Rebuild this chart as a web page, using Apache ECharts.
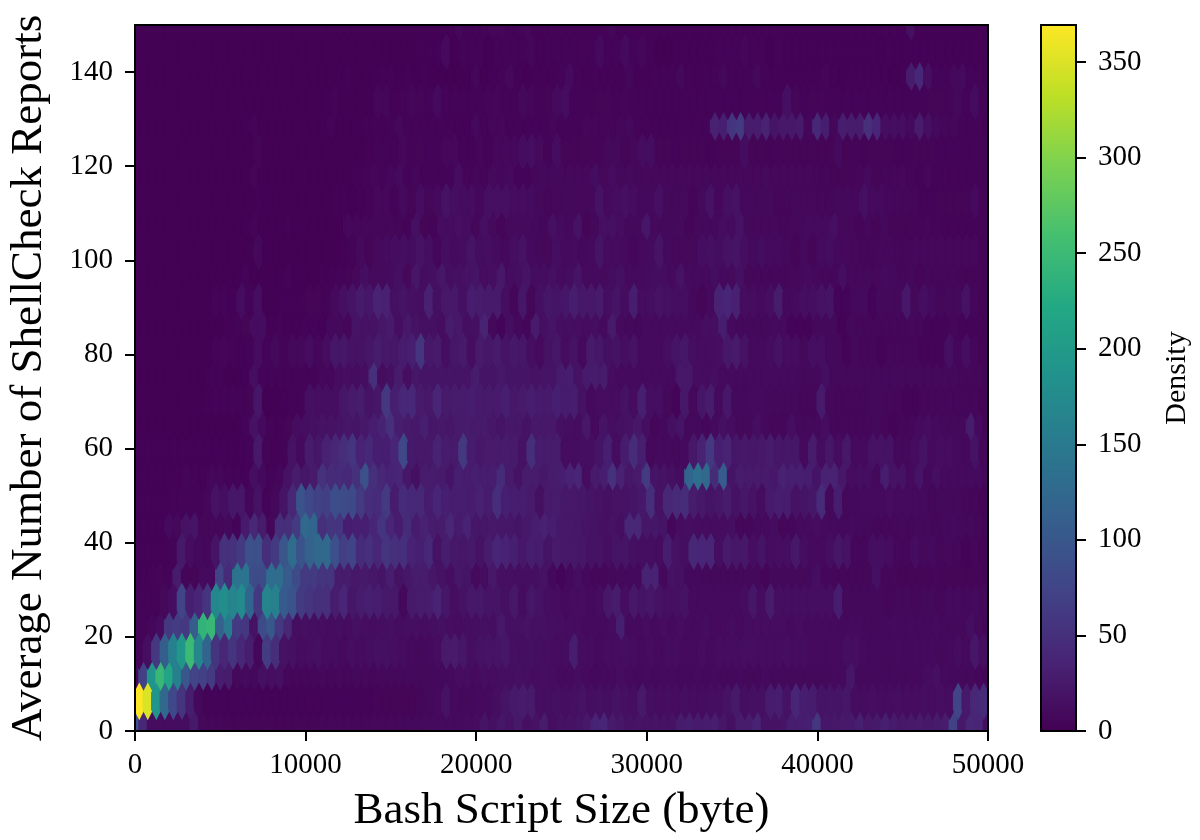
<!DOCTYPE html>
<html><head><meta charset="utf-8">
<style>html,body{margin:0;padding:0;background:#fff}#c{width:1200px;height:840px}</style>
<script src="https://cdn.jsdelivr.net/npm/echarts@6/dist/echarts.min.js"></script>
</head><body><div id="c"></div>
<script>
// Hexagon bin counts. Names give each row's y bin centre.
const r1=[90,40,12,12,12,12,12,25,8,6,6,5,5,5,5,5,5,5,5,5,5,5,6,6,6,6,6,6,7,7,7,7,8,8,9,9,10,10,10,11,12,20,16,22,18,25,16,18,28,14,18,18,20,24,36,38,26,22,18,20,18,20,18,18,28,30,26,28,30,22,16,28,28,36,18,18,20,30,30,32,58,22,24,25,25,32,24,25,32,26,24,25,26,24,26,28,72,24,40,38,15];
const r6=[370,350,190,125,80,55,30,8,4,4,3,3,3,3,3,3,3,3,3,3,3,3,4,4,4,4,4,4,5,5,5,5,5,6,8,10,18,10,8,8,10,10,14,20,25,28,26,14,14,16,14,16,18,14,16,14,18,16,14,25,14,12,14,12,14,12,12,14,14,18,25,14,16,16,28,30,18,38,30,28,20,20,20,22,12,12,14,12,12,14,12,12,14,12,14,12,75,25,40,45];
const r12=[8,70,190,245,215,160,100,75,70,62,30,28,8,10,8,16,14,16,6,6,6,6,7,6,7,6,8,7,6,8,8,7,8,8,8,8,8,10,12,12,10,14,12,14,14,16,14,12,14,12,10,10,12,10,8,10,10,12,10,8,10,8,10,10,8,8,10,8,10,8,8,10,8,8,10,8,8,8,8,8,8,8,10,10,22,8,8,8,8,8,8,8,8,12,15,10,8,8,8,6,5];
const r17=[4,14,60,110,160,195,250,170,120,55,40,55,40,30,6,65,48,18,16,12,14,16,12,12,10,14,12,14,16,16,14,12,10,8,10,12,26,26,22,14,18,20,20,22,16,14,16,14,14,12,12,30,12,12,10,12,12,14,12,10,12,10,12,12,10,10,12,10,12,12,12,14,14,12,12,12,14,12,12,10,10,10,10,14,14,10,8,8,8,10,8,10,10,10,8,10,12,10,22,14];
const r22=[3,4,6,12,60,65,60,110,240,245,115,150,62,58,18,85,100,60,40,14,16,14,14,12,14,12,16,14,12,14,16,12,14,14,12,14,16,14,12,14,14,16,14,24,16,16,18,16,16,14,14,12,12,10,10,10,12,32,10,10,12,10,12,10,12,10,10,12,10,10,12,10,12,12,12,12,12,10,12,10,10,10,10,8,10,10,8,8,8,10,8,10,8,8,10,8,8,8,14,8,6];
const r28=[3,3,4,8,14,75,32,38,55,170,180,165,175,120,60,165,160,105,95,62,55,50,50,30,38,22,28,32,30,25,24,8,25,28,28,35,22,14,18,24,24,20,20,16,24,12,22,18,14,12,10,12,12,10,12,24,28,14,24,20,22,18,15,16,18,10,10,10,10,10,10,12,22,12,28,14,14,14,14,14,14,14,30,8,8,8,8,8,6,8,8,6,8,8,6,10,10,8,10,8];
const r33=[2,2,3,5,4,28,5,5,10,10,75,45,140,140,85,85,130,130,105,85,62,62,55,55,28,28,24,25,22,20,30,18,22,28,28,22,18,14,22,20,10,12,24,15,15,14,14,14,18,8,3,8,14,8,6,6,8,8,8,8,36,36,8,18,16,8,8,8,8,8,8,8,8,8,5,8,8,8,8,8,14,6,6,6,6,6,6,16,6,6,5,5,5,5,6,5,5,5,5,5,4];
const r38=[2,2,2,2,4,25,12,8,6,20,52,52,62,90,90,48,62,98,130,95,115,125,125,90,68,75,45,50,40,55,50,50,35,32,42,18,30,24,22,25,18,28,38,36,32,24,30,28,20,26,24,24,22,18,18,14,20,20,16,14,14,12,30,18,14,42,38,38,14,26,22,24,14,20,12,14,14,24,14,10,10,14,22,18,6,6,14,14,12,6,6,12,8,10,6,8,6,4,6,4];
const r43=[2,2,2,2,10,8,18,20,6,6,6,8,4,26,40,28,6,48,48,62,125,120,50,55,55,30,32,32,38,55,38,28,45,28,34,28,28,40,26,36,22,22,24,22,22,20,24,30,34,30,24,24,22,20,18,16,18,14,42,40,22,22,20,6,12,14,12,12,12,12,14,6,6,10,10,12,6,6,10,10,12,10,10,8,10,8,8,6,6,6,8,6,8,8,6,8,10,8,8,6,6];
const r49=[2,2,2,2,3,4,4,4,6,18,14,22,22,6,18,4,8,20,40,95,80,72,68,88,85,82,62,48,45,62,28,45,42,42,28,38,32,30,30,28,34,28,48,32,30,30,26,16,26,28,24,24,22,20,18,16,18,18,20,24,48,18,40,44,46,28,24,20,22,28,18,22,18,12,26,30,28,18,20,22,44,8,30,8,8,10,10,10,12,10,10,10,10,6,8,8,8,6,6,4];
const r54=[2,2,2,2,2,2,5,3,2,6,6,4,4,2,14,8,4,6,18,28,22,26,52,45,45,42,50,90,50,40,35,38,22,16,28,28,26,20,32,28,32,30,30,45,26,18,28,28,24,28,30,36,38,12,26,30,52,34,22,26,62,20,18,16,12,118,135,125,45,105,20,28,26,26,26,24,34,32,32,30,20,34,36,24,12,14,14,8,30,18,18,10,20,8,14,10,10,10,10,10,8];
const r59=[2,2,2,2,2,2,2,2,2,2,2,2,2,3,25,3,2,4,18,10,28,22,34,40,48,55,35,42,30,30,38,80,25,24,24,36,28,26,60,28,24,26,26,28,26,18,48,28,28,28,12,12,14,14,20,32,12,28,46,32,8,10,10,8,10,24,36,60,32,36,22,24,22,24,28,22,22,22,10,28,12,22,12,24,10,10,18,18,18,8,8,12,18,10,12,12,10,8,18,6];
const r65=[1,1,1,1,1,1,1,1,1,1,1,1,1,3,18,10,3,2,5,12,14,16,18,18,20,22,20,24,30,35,50,30,26,24,32,22,24,22,26,28,26,26,22,20,24,22,18,24,24,24,16,14,12,24,10,20,14,16,18,24,14,6,8,16,20,8,8,6,10,16,12,8,8,14,8,6,6,14,8,8,8,12,6,6,6,6,6,8,6,4,6,6,10,12,10,8,8,8,28,10,4];
const r70=[1,1,1,1,1,1,1,1,2,3,3,4,3,5,22,1,1,2,3,4,16,14,14,14,22,26,28,20,22,60,32,40,42,26,24,38,26,28,28,30,26,26,26,32,24,26,30,26,26,32,28,30,18,10,12,12,12,18,12,32,14,14,8,4,24,8,22,28,10,24,8,8,10,10,8,8,8,8,6,6,26,8,6,6,6,6,8,8,6,6,4,4,6,6,6,6,6,6,6,4];
const r75=[1,1,1,1,1,1,1,1,1,3,3,1,1,2,14,4,4,4,4,4,4,4,6,6,12,14,12,14,50,12,16,28,14,22,20,20,20,20,20,20,28,20,20,24,20,20,20,18,20,20,28,30,18,26,28,28,12,10,10,10,10,10,10,10,24,24,12,12,14,10,10,10,10,10,10,10,10,10,8,8,8,14,8,8,8,8,8,8,8,8,8,8,8,8,8,8,8,6,6,6,4];
const r81=[1,1,1,1,1,1,1,1,1,3,5,3,2,3,12,3,8,3,8,8,12,6,12,22,22,18,18,22,28,24,22,28,32,55,24,26,14,22,26,14,26,22,26,20,24,22,14,10,18,22,12,18,10,26,22,16,18,14,18,10,10,10,14,20,22,14,12,12,14,24,26,18,10,10,12,18,12,12,8,14,14,8,8,4,8,6,6,4,6,6,6,6,4,4,4,16,6,14,6,4];
const r86=[1,1,1,1,1,1,1,1,1,1,1,2,3,5,12,12,2,3,2,2,3,4,2,8,8,6,20,18,18,22,26,14,24,18,16,16,12,28,24,14,16,36,8,4,14,8,5,26,16,20,14,14,14,12,14,10,26,10,8,6,10,10,10,10,10,10,10,14,14,30,10,8,8,8,8,10,10,4,3,3,8,8,8,2,8,6,6,6,6,6,6,8,6,4,4,4,6,4,3,3,3];
const r91=[1,1,1,1,1,1,1,1,1,3,3,2,12,3,14,1,1,2,2,2,5,5,4,10,16,20,26,22,35,34,16,20,16,14,34,16,24,24,16,30,28,26,26,14,6,22,6,16,22,20,22,30,24,24,26,14,20,12,30,12,14,18,16,14,14,8,5,10,36,38,34,12,12,10,14,28,8,10,14,14,18,20,3,4,8,10,3,8,8,8,24,8,14,10,6,8,8,18,6,4];
const r97=[1,1,1,1,1,1,1,1,1,1,1,1,1,4,1,1,1,1,4,1,1,1,2,2,4,5,7,14,9,9,11,16,7,22,13,16,22,14,16,18,20,12,14,24,12,14,20,13,13,16,11,13,20,10,10,9,13,16,10,10,11,13,13,10,18,10,9,10,13,10,9,16,6,6,6,6,6,7,7,10,8,6,6,14,7,7,8,7,10,7,6,8,5,6,6,6,6,5,5,5,4];
const r102=[1,1,1,1,1,1,1,1,1,1,1,1,1,1,8,1,1,1,1,1,1,1,1,1,2,4,9,5,9,11,13,14,13,18,14,6,14,11,13,20,13,14,11,8,14,18,10,8,7,14,10,11,8,10,20,11,11,10,6,10,11,20,10,7,7,8,14,16,13,18,20,14,10,13,10,10,8,5,10,5,11,13,7,7,7,6,6,7,7,6,6,7,7,7,7,7,7,7,7,4];
const r107=[1,1,1,1,1,1,1,1,1,1,1,1,1,1,4,1,1,1,2,1,1,1,1,1,1,7,6,6,6,6,6,5,4,16,5,3,12,12,15,12,6,15,9,5,9,9,9,8,6,16,11,8,18,5,8,15,16,12,7,8,22,9,8,8,9,5,8,8,8,12,11,18,8,7,7,7,6,7,8,9,10,10,15,7,7,5,7,5,8,5,5,5,5,6,5,3,3,3,3,3,3];
const r113=[1,1,1,1,1,1,1,1,1,1,1,1,1,1,2,1,1,1,1,1,1,1,1,2,2,1,2,3,7,7,4,10,5,12,6,9,18,14,12,12,7,15,15,15,12,12,11,8,6,7,8,8,7,8,18,9,12,15,12,8,8,16,8,8,9,5,9,18,7,16,18,8,7,8,9,6,6,8,7,7,6,6,8,8,7,16,9,10,6,6,6,6,4,4,5,5,5,5,10,4];
const r118=[1,1,1,1,1,1,1,1,1,1,1,1,1,1,5,1,1,1,1,1,1,1,1,1,1,1,2,3,6,4,6,10,4,6,4,4,3,4,13,5,6,5,9,6,10,4,4,6,8,8,8,7,7,7,13,7,12,8,9,7,7,7,7,7,7,7,7,8,7,7,7,7,7,7,9,7,7,7,7,7,6,6,5,5,5,6,10,5,6,6,7,5,4,7,4,3,3,3,3,3,3];
const r123=[1,1,1,1,1,1,1,1,1,1,1,1,1,1,5,1,1,1,1,1,1,1,1,1,1,1,1,2,3,4,3,7,4,5,4,4,7,7,4,4,6,4,7,7,7,12,14,9,4,12,5,5,5,5,5,8,8,5,7,12,13,5,5,4,5,5,5,3,5,5,5,13,5,5,4,5,5,5,5,5,5,5,10,5,5,4,5,5,5,3,3,5,5,5,4,4,4,4,4,3];
const r128=[1,1,1,1,1,1,1,1,1,1,1,1,1,1,3,1,1,1,1,1,1,1,1,3,1,1,1,2,2,2,3,8,3,3,3,3,3,3,2,2,8,3,6,6,3,3,3,3,3,6,4,4,4,6,6,5,5,6,8,4,3,3,3,3,3,3,3,3,34,32,55,62,28,28,35,20,24,24,26,6,42,30,6,30,28,28,50,38,14,14,14,10,28,16,8,6,6,4,3,3,2];
const r134=[1,1,1,1,1,1,1,1,1,1,1,1,1,1,1,1,1,1,1,1,1,1,1,3,1,1,1,1,6,6,2,3,6,5,3,10,4,3,3,3,3,5,6,4,4,8,6,4,5,10,12,4,4,4,5,5,4,5,4,4,3,3,3,3,4,3,3,3,3,3,3,3,3,3,3,3,16,6,4,5,5,4,3,3,3,3,3,3,4,4,4,4,4,5,5,5,8,4,11,3];
const r139=[1,1,1,1,1,1,1,1,1,1,1,1,1,1,1,1,1,1,1,1,1,1,1,1,1,2,1,1,1,2,2,1,2,1,2,1,1,1,1,1,6,1,2,3,8,2,1,2,2,2,3,10,3,2,3,2,2,2,6,2,2,3,3,3,8,3,2,3,3,8,3,3,3,8,3,2,2,2,2,2,2,5,2,1,2,2,2,2,2,1,2,28,42,14,3,3,8,10,3,3,2];
const r144=[1,1,1,1,1,1,1,1,1,1,1,1,1,1,1,1,1,1,1,1,1,1,1,1,1,1,1,1,1,1,1,1,1,2,2,2,10,1,3,3,3,1,3,3,3,3,6,2,3,3,3,3,3,3,10,3,3,10,3,6,3,1,1,2,2,2,2,2,3,3,3,6,4,3,1,3,2,2,2,2,2,2,2,2,2,2,2,1,2,2,2,2,2,2,2,2,2,2,2,2];
const r150=[1,1,1,1,1,1,1,1,1,1,1,1,1,1,1,1,1,1,1,1,1,1,1,1,1,1,1,1,1,1,1,1,1,1,1,1,1,1,6,3,3,3,6,6,3,3,6,2,2,2,2,2,2,2,2,2,6,2,2,2,2,2,2,2,2,2,2,2,2,2,2,2,2,2,2,2,2,2,2,2,2,2,2,2,2,2,2,2,2,2,2,16,2,2,2,2,2,2,2,2,2];

const latticeOneRows=[[1,r1],[11.62,r12],[22.24,r22],[32.86,r33],[43.48,r43],[54.1,r54],[64.72,r65],[75.34,r75],[85.96,r86],[96.58,r97],[107.2,r107],[117.82,r118],[128.44,r128],[139.06,r139],[149.68,r150]];
const latticeTwoRows=[[6.31,r6],[16.93,r17],[27.55,r28],[38.17,r38],[48.79,r49],[59.41,r59],[70.03,r70],[80.65,r81],[91.27,r91],[101.89,r102],[112.51,r113],[123.13,r123],[133.75,r134],[144.37,r144]];

const xTicks=[0,10000,20000,30000,40000,50000];
const yTicks=[0,20,40,60,80,100,120,140];
const colorTicks=[0,50,100,150,200,250,300,350];
const viridis=['#440154','#482475','#414487','#355f8d','#2a788e','#21918c','#22a884','#44bf70','#7ad151','#bddf26','#fde725'];
const binW=500, binH=10.62, colorMax=369.4;

// matplotlib paints the first lattice, then the second one over it
const cells=[];
latticeOneRows.forEach(([y,row])=>row.forEach((v,k)=>cells.push([k*binW,y,v])));
latticeTwoRows.forEach(([y,row])=>row.forEach((v,k)=>cells.push([(k+0.5)*binW,y,v])));

const hexOutline=[[.5,-1/6],[.5,1/6],[0,1/3],[-.5,1/6],[-.5,-1/6],[0,-1/3]];
const FONT='"Liberation Serif"';
const lineStyle={color:'#000',width:2};
const plain=v=>String(v);
const bareAxis=(gridIndex,position,min,max)=>({type:'value',gridIndex,position,min,max,z:5,
  axisLine:{show:true,onZero:false,lineStyle},axisTick:{show:false},axisLabel:{show:false},splitLine:{show:false}});

const chart=echarts.init(document.getElementById('c'),null,{renderer:'canvas'});
chart.setOption({
  animation:false,
  backgroundColor:'#fff',
  textStyle:{fontFamily:FONT},
  grid:[
    {left:135,top:25,width:853,height:706,show:true,backgroundColor:'#440154',borderWidth:0,containLabel:false,outerBoundsMode:'none'},
    {left:1041,top:25,width:35,height:706,containLabel:false,outerBoundsMode:'none'}
  ],
  xAxis:[
    {type:'value',gridIndex:0,position:'bottom',min:0,max:50000,interval:10000,z:5,
     name:'Bash Script Size (byte)',nameLocation:'middle',nameGap:58,
     nameTextStyle:{fontFamily:FONT,fontSize:45,color:'#000'},
     axisLine:{show:true,onZero:false,lineStyle},
     axisTick:{show:true,length:10,lineStyle:{color:'#000',width:2}},
     axisLabel:{show:true,color:'#000',fontFamily:FONT,fontSize:29,margin:20,showMinLabel:true,showMaxLabel:true,customValues:xTicks,formatter:plain},
     splitLine:{show:false}},
    bareAxis(0,'top',0,50000),
    bareAxis(1,'bottom',0,1),
    bareAxis(1,'top',0,1)
  ],
  yAxis:[
    {type:'value',gridIndex:0,position:'left',min:0,max:150,z:5,
     name:'Average Number of ShellCheck Reports',nameLocation:'middle',nameGap:83,
     nameTextStyle:{fontFamily:FONT,fontSize:45,color:'#000'},
     axisLine:{show:true,onZero:false,lineStyle},
     axisTick:{show:true,length:10,lineStyle:{color:'#000',width:2},customValues:yTicks},
     axisLabel:{show:true,color:'#000',fontFamily:FONT,fontSize:29,margin:22,customValues:yTicks,formatter:plain},
     splitLine:{show:false}},
    bareAxis(0,'right',0,150),
    bareAxis(1,'left',0,colorMax),
    {type:'value',gridIndex:1,position:'right',min:0,max:colorMax,z:5,
     name:'Density',nameLocation:'middle',nameGap:86,nameRotate:90,
     nameTextStyle:{fontFamily:FONT,fontSize:30,color:'#000'},
     axisLine:{show:true,onZero:false,lineStyle},
     axisTick:{show:true,length:10,lineStyle:{color:'#000',width:2},customValues:colorTicks},
     axisLabel:{show:true,color:'#000',fontFamily:FONT,fontSize:29,margin:22,customValues:colorTicks,formatter:plain},
     splitLine:{show:false}}
  ],
  visualMap:{type:'continuous',min:0,max:colorMax,dimension:2,seriesIndex:0,calculable:false,hoverLink:false,
    left:1041,top:25,itemWidth:35,itemHeight:706,padding:0,text:['',''],textGap:0,borderWidth:0,
    inRange:{color:viridis}},
  series:[{
    type:'custom',coordinateSystem:'cartesian2d',xAxisIndex:0,yAxisIndex:0,
    data:cells,clip:true,silent:true,progressive:0,z:2,
    encode:{x:0,y:1},
    renderItem(params,api){
      const x=api.value(0),y=api.value(1),c=api.visual('color');
      return {type:'polygon',
        shape:{points:hexOutline.map(([dx,dy])=>api.coord([x+dx*binW,y+dy*binH]))},
        style:{fill:c,stroke:c,lineWidth:2}};
    }
  }]
});
</script></body></html>
